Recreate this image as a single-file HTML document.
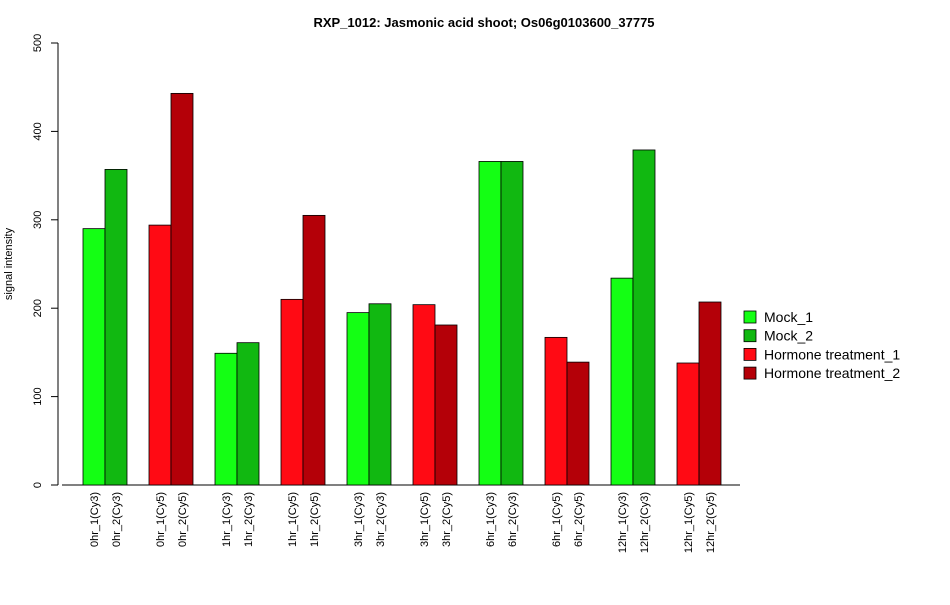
<!DOCTYPE html>
<html><head><meta charset="utf-8"><style>body{margin:0;background:#fff}svg{font-family:"Liberation Sans",Arial,sans-serif}</style></head>
<body>
<svg id="chart" width="950" height="600" viewBox="0 0 950 600"></svg>
<script>
const categories=["0hr_1(Cy3)","0hr_2(Cy3)","0hr_1(Cy5)","0hr_2(Cy5)","1hr_1(Cy3)","1hr_2(Cy3)","1hr_1(Cy5)","1hr_2(Cy5)","3hr_1(Cy3)","3hr_2(Cy3)","3hr_1(Cy5)","3hr_2(Cy5)","6hr_1(Cy3)","6hr_2(Cy3)","6hr_1(Cy5)","6hr_2(Cy5)","12hr_1(Cy3)","12hr_2(Cy3)","12hr_1(Cy5)","12hr_2(Cy5)"];
const values=[290,357,294,443,149,161,210,305,195,205,204,181,366,366,167,139,234,379,138,207];
const seriesIndex=[0,1,2,3,0,1,2,3,0,1,2,3,0,1,2,3,0,1,2,3];
const seriesNames=["Mock_1","Mock_2","Hormone treatment_1","Hormone treatment_2"];
const seriesColors=["#14ff14","#11b811","#ff0a14","#b40008"];
const yTicks=[0,100,200,300,400,500];
const svg=document.getElementById('chart');const NS="http://www.w3.org/2000/svg";
function mk(t,a,p){const e=document.createElementNS(NS,t);for(const k in a)e.setAttribute(k,a[k]);(p||svg).appendChild(e);return e;}
const y=v=>485-v*0.884;
const x=i=>83+Math.floor(i/2)*66+(i%2)*22;
let t=mk('text',{x:484,y:27,'text-anchor':'middle','font-size':13,'font-weight':'bold'});t.textContent="RXP_1012: Jasmonic acid shoot; Os06g0103600_37775";

t=mk('text',{transform:'translate(12,264) rotate(-90)','text-anchor':'middle','font-size':11});t.textContent="signal intensity";

let ax=mk('g',{});
mk('line',{x1:58,x2:58,y1:y(0),y2:y(500),stroke:'#000'},ax);
yTicks.forEach(v=>{mk('line',{x1:51,x2:58,y1:y(v),y2:y(v),stroke:'#000'},ax);
 const l=mk('text',{transform:`translate(41,${y(v)}) rotate(-90)`,'text-anchor':'middle','font-size':11},ax);l.textContent=v;});
let xa=mk('line',{x1:62,x2:740,y1:485,y2:485,stroke:'#000'});

values.forEach((v,i)=>{const r=mk('rect',{x:x(i),y:y(v),width:22,height:485-y(v),fill:seriesColors[seriesIndex[i]],stroke:'#000','stroke-width':0.8});
 
 const l=mk('text',{transform:`translate(${x(i)+15},492) rotate(-90)`,'text-anchor':'end','font-size':11});l.textContent=categories[i];
 });
seriesNames.forEach((n,k)=>{const g=mk('g',{});
 const cy=317+k*18.7;mk('rect',{x:744,y:cy-6,width:12,height:12,fill:seriesColors[k],stroke:'#000','stroke-width':0.8},g);
 const l=mk('text',{x:764,y:cy+5,'font-size':14},g);l.textContent=n;});
</script>
</body></html>
